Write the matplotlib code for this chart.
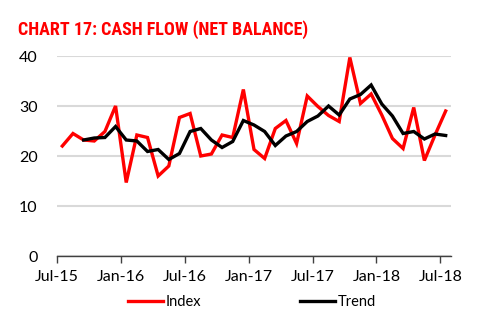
import numpy as np
import matplotlib
matplotlib.use("Agg")
import matplotlib.pyplot as plt

# monthly values, Jul-15 .. Jul-18
months = ["Jul-15", "Aug-15", "Sep-15", "Oct-15", "Nov-15", "Dec-15",
          "Jan-16", "Feb-16", "Mar-16", "Apr-16", "May-16", "Jun-16",
          "Jul-16", "Aug-16", "Sep-16", "Oct-16", "Nov-16", "Dec-16",
          "Jan-17", "Feb-17", "Mar-17", "Apr-17", "May-17", "Jun-17",
          "Jul-17", "Aug-17", "Sep-17", "Oct-17", "Nov-17", "Dec-17",
          "Jan-18", "Feb-18", "Mar-18", "Apr-18", "May-18", "Jun-18",
          "Jul-18"]
index_vals = [22, 24.5, 23.2, 23, 24.9, 30, 14.7, 24.2, 23.7, 16, 18, 27.7,
              28.5, 20, 20.4, 24.2, 23.7, 33.3, 21.3, 19.5, 25.5, 27.1, 22.5, 32,
              29.9, 28.1, 26.9, 39.7, 30.5, 32.4, 28.2, 23.5, 21.5, 29.7, 19.1, 24.2,
              29]
trend_vals = [np.nan, np.nan, 23.2, 23.6, 23.7, 25.9, 23.2, 23, 20.9, 21.3, 19.3, 20.5,
              24.9, 25.5, 23.2, 21.7, 22.9, 27.1, 26.2, 24.9, 22.1, 24, 24.9, 26.9,
              28, 30, 28.2, 31.4, 32.3, 34.2, 30.4, 28, 24.5, 24.9, 23.4, 24.4,
              24.1]
tick_labels = ["Jul-15", "Jan-16", "Jul-16", "Jan-17", "Jul-17", "Jan-18", "Jul-18"]

plt.rcParams['font.family'] = ['Lato', 'DejaVu Sans']

fig = plt.figure(figsize=(4.82, 3.28), dpi=100)
ax = fig.add_axes([57 / 482, 1 - 256 / 328, (451 - 57) / 482, 200 / 328])

x = np.arange(len(months))
ax.plot(x, index_vals, color="#ff0000", lw=2.4, label="Index", solid_joinstyle="miter")
ax.plot(x, trend_vals, color="#000000", lw=2.4, label="Trend", solid_joinstyle="miter")

ax.set_xlim(-0.5, len(months) - 0.5)
ax.set_ylim(0, 40)
ax.set_yticks([0, 10, 20, 30, 40])
tick_pos = [months.index(t) - 0.5 for t in tick_labels]
ax.set_xticks(tick_pos)
ax.set_xticklabels(tick_labels)

ax.grid(axis="y", color="#d9d9d9", lw=1.5)
ax.set_axisbelow(True)
for s in ["top", "right", "left"]:
    ax.spines[s].set_visible(False)
ax.spines["bottom"].set_color("#404040")
ax.spines["bottom"].set_linewidth(1.0)
ax.tick_params(axis="y", length=0, pad=14, labelsize=11.5)
ax.tick_params(axis="x", length=5, width=1, color="#404040", pad=5, labelsize=11.5)

# condensed heavy title; fall back to a narrower sans if no condensed face
fig.text(18 / 482, 1 - 35 / 328, "CHART 17: CASH FLOW (NET BALANCE)",
         color="#ff0000", fontsize=13, fontweight="bold", fontstretch="condensed",
         family=["Roboto Condensed", "Open Sans Condensed", "Liberation Sans Narrow",
                 "Liberation Sans", "DejaVu Sans"])

fig.legend(loc="center", bbox_to_anchor=(252 / 482, 1 - 302 / 328), ncol=2,
           frameon=False, fontsize=10.5, handlelength=2.4, handletextpad=0.2,
           columnspacing=6.8)

fig.savefig("out.png", dpi=100)
